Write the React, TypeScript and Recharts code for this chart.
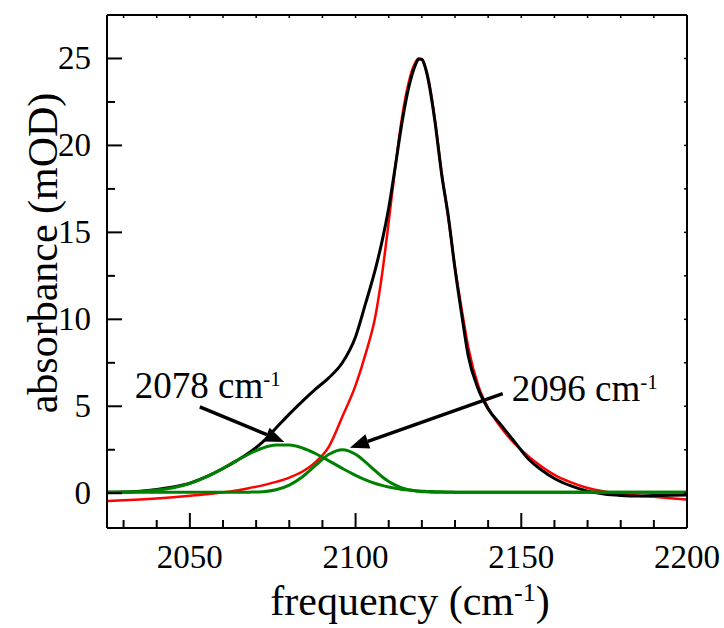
import { LineChart, Line, XAxis, YAxis, ReferenceLine } from "recharts";

// wavenumber grid (cm-1) used by all traces
const freq = [
  2025, 2030, 2035, 2040, 2045, 2050, 2055, 2060, 2064, 2068, 2072, 2076, 2080, 2084, 2088,
  2092, 2096, 2100, 2103, 2106, 2108, 2110, 2112, 2114, 2116, 2117, 2118, 2119, 2120, 2121,
  2122, 2123, 2124, 2126, 2128, 2130, 2132, 2134, 2137, 2140, 2144, 2148, 2152, 2156, 2160,
  2165, 2170, 2175, 2180, 2185, 2190, 2195, 2200,
];

// measured spectrum (black)
const measured = [
  0.05, 0.07, 0.12, 0.22, 0.36, 0.58, 0.95, 1.42, 1.86, 2.35, 2.95, 3.75, 4.55, 5.3, 6.0,
  6.65, 7.5, 9.0, 10.9, 12.9, 14.5, 16.4, 18.8, 21.3, 23.3, 24.05, 24.6, 24.95, 24.95, 24.5,
  23.7, 22.6, 21.3, 18.3, 15.9, 12.9, 10.3, 7.9, 6.0, 4.85, 3.9, 2.95, 2.0, 1.35, 0.85,
  0.42, 0.12, -0.05, -0.13, -0.16, -0.13, -0.12, -0.1,
];

// main band fit (red)
const fitMain = [
  -0.45, -0.41, -0.36, -0.3, -0.23, -0.15, -0.06, 0.05, 0.16, 0.3, 0.45, 0.65, 0.9, 1.25, 1.8,
  2.7, 4.4, 6.2, 8.0, 10.2, 12.6, 15.6, 18.8, 21.6, 23.6, 24.3, 24.75, 25.0, 24.95, 24.55,
  23.8, 22.7, 21.4, 18.4, 15.8, 13.0, 10.6, 8.4, 6.2, 4.9, 3.75, 2.85, 2.15, 1.55, 1.05,
  0.62, 0.3, 0.1, -0.03, -0.13, -0.21, -0.29, -0.36,
];

// 2078 cm-1 component (green)
const band2078 = [
  0.06, 0.07, 0.1, 0.18, 0.32, 0.56, 0.94, 1.43, 1.86, 2.27, 2.6, 2.77, 2.77, 2.6, 2.27,
  1.86, 1.43, 1.03, 0.77, 0.56, 0.45, 0.36, 0.28, 0.22, 0.18, 0.16, 0.14, 0.13, 0.12, 0.11,
  0.1, 0.1, 0.09, 0.08, 0.07, 0.06, 0.06, 0.05, 0.05, 0.05, 0.05, 0.05, 0.05, 0.05, 0.05,
  0.05, 0.05, 0.05, 0.05, 0.05, 0.05, 0.05, 0.05,
];

// 2096 cm-1 component (green)
const band2096 = [
  0.05, 0.05, 0.05, 0.05, 0.05, 0.05, 0.05, 0.05, 0.05, 0.06, 0.09, 0.2, 0.47, 0.95, 1.62,
  2.24, 2.5, 2.24, 1.79, 1.28, 0.95, 0.68, 0.47, 0.31, 0.2, 0.17, 0.14, 0.11, 0.09, 0.08,
  0.07, 0.06, 0.06, 0.05, 0.05, 0.05, 0.05, 0.05, 0.05, 0.05, 0.05, 0.05, 0.05, 0.05, 0.05,
  0.05, 0.05, 0.05, 0.05, 0.05, 0.05, 0.05, 0.05,
];

const xTicks = [
  2030, 2040, 2050, 2060, 2070, 2080, 2090, 2100, 2110, 2120, 2130, 2140, 2150, 2160, 2170,
  2180, 2190, 2200,
];
const xMajor = [2050, 2100, 2150, 2200];
const yTicks = [0, 2.5, 5, 7.5, 10, 12.5, 15, 17.5, 20, 22.5, 25];
const yMajor = [0, 5, 10, 15, 20, 25];

const rows = freq.map((f, i) => ({
  f,
  measured: measured[i],
  fit: fitMain[i],
  b2078: band2078[i],
  b2096: band2096[i],
}));

const FONT = "'Liberation Serif', 'Times New Roman', Times, serif";
const GREEN = "#008000";
const serif = { fontFamily: FONT };

function BottomTick({ x, y, payload }: any) {
  const major = xMajor.includes(payload.value);
  return (
    <g>
      <line x1={x} y1={y} x2={x} y2={y - (major ? 15 : 8)} stroke="#000" strokeWidth={2} />
      {major && (
        <text x={x} y={y + 29} textAnchor="middle" dominantBaseline="central"
          style={serif} fontSize={33} fill="#000">
          {payload.value}
        </text>
      )}
    </g>
  );
}

function LeftTick({ x, y, payload }: any) {
  const major = yMajor.includes(payload.value);
  return (
    <g>
      <line x1={x} y1={y} x2={x + (major ? 15 : 8)} y2={y} stroke="#000" strokeWidth={2} />
      {major && (
        <text x={x - 16} y={y} textAnchor="end" dominantBaseline="central"
          style={serif} fontSize={33} fill="#000">
          {payload.value}
        </text>
      )}
    </g>
  );
}

function TopTick({ x, y }: any) {
  return <line x1={x} y1={y} x2={x} y2={y + 3} stroke="#000" strokeWidth={1.5} />;
}

function RightTick({ x, y }: any) {
  return <line x1={x} y1={y} x2={x - 3} y2={y} stroke="#000" strokeWidth={1.5} />;
}

function YTitle({ viewBox }: any) {
  const cx = 57;
  const cy = viewBox ? viewBox.y + 238 : 253;
  return (
    <text x={cx} y={cy} transform={`rotate(-90 ${cx} ${cy})`} textAnchor="middle"
      style={serif} fontSize={42} fill="#000">
      absorbance (mOD)
    </text>
  );
}

function XTitle({ viewBox }: any) {
  const cx = viewBox ? viewBox.x + viewBox.width / 2 + 13 : 410;
  const cy = viewBox ? viewBox.y + 87 : 615;
  return (
    <text x={cx} y={cy} textAnchor="middle" style={serif} fontSize={42} fill="#000">
      frequency (cm
      <tspan dy={-14} fontSize={26}>-1</tspan>
      <tspan dy={14}>)</tspan>
    </text>
  );
}

function arrowShape(label: string, dx: number, dy: number) {
  return (p: any) => {
    const { x1, y1, x2, y2 } = p;
    const ang = Math.atan2(y2 - y1, x2 - x1);
    const len = 19;
    const half = 7.5;
    const bx = x2 - len * Math.cos(ang);
    const by = y2 - len * Math.sin(ang);
    const pts = [
      `${x2},${y2}`,
      `${bx + half * Math.sin(ang)},${by - half * Math.cos(ang)}`,
      `${bx - half * Math.sin(ang)},${by + half * Math.cos(ang)}`,
    ].join(" ");
    return (
      <g>
        <line x1={x1} y1={y1} x2={bx} y2={by} stroke="#000" strokeWidth={3.5} />
        <polygon points={pts} fill="#000" />
        <text x={x1 + dx} y={y1 + dy} style={serif} fontSize={37} fill="#000">
          {label}
          <tspan dy={-12} fontSize={21}>-1</tspan>
        </text>
      </g>
    );
  };
}

export default function App() {
  return (
    <div style={{ position: "absolute", left: 0, top: 0, background: "#fff" }}>
      <LineChart width={724} height={628} data={rows}
        margin={{ top: 0, right: 0, bottom: 0, left: 0 }}>
        <XAxis xAxisId="bottom" dataKey="f" type="number" domain={[2025, 2200]}
          ticks={xTicks} allowDataOverflow height={100} tickSize={0} tickMargin={0}
          tickLine={false} axisLine={{ stroke: "#000", strokeWidth: 2 }}
          tick={<BottomTick />} interval={0} label={<XTitle />} />
        <XAxis xAxisId="top" orientation="top" dataKey="f" type="number"
          domain={[2025, 2200]} ticks={xTicks} allowDataOverflow height={15}
          tickSize={0} tickMargin={0} tickLine={false}
          axisLine={{ stroke: "#000", strokeWidth: 2 }} tick={<TopTick />} interval={0} />
        <YAxis yAxisId="left" type="number" domain={[-2, 27.5]} ticks={yTicks}
          allowDataOverflow width={107} tickSize={0} tickMargin={0} tickLine={false}
          axisLine={{ stroke: "#000", strokeWidth: 2 }} tick={<LeftTick />} interval={0}
          label={<YTitle />} />
        <YAxis yAxisId="right" orientation="right" type="number" domain={[-2, 27.5]}
          ticks={yTicks} allowDataOverflow width={37} tickSize={0} tickMargin={0}
          tickLine={false} axisLine={{ stroke: "#000", strokeWidth: 2 }}
          tick={<RightTick />} interval={0} />

        <Line xAxisId="bottom" yAxisId="left" type="monotone" dataKey="fit" stroke="#ff0000"
          strokeWidth={2.5} dot={false} activeDot={false} isAnimationActive={false} />
        <Line xAxisId="bottom" yAxisId="left" type="monotone" dataKey="measured" stroke="#000"
          strokeWidth={3} dot={false} activeDot={false} isAnimationActive={false} />
        <Line xAxisId="bottom" yAxisId="left" type="monotone" dataKey="b2078" stroke={GREEN}
          strokeWidth={3} dot={false} activeDot={false} isAnimationActive={false} />
        <Line xAxisId="bottom" yAxisId="left" type="monotone" dataKey="b2096" stroke={GREEN}
          strokeWidth={3} dot={false} activeDot={false} isAnimationActive={false} />

        <ReferenceLine xAxisId="bottom" yAxisId="left" ifOverflow="visible"
          segment={[{ x: 2053, y: 4.96 }, { x: 2078.5, y: 2.95 }]}
          shape={arrowShape("2078 cm", -65, -9)} />
        <ReferenceLine xAxisId="bottom" yAxisId="left" ifOverflow="visible"
          segment={[{ x: 2144.4, y: 5.73 }, { x: 2098.3, y: 2.62 }]}
          shape={arrowShape("2096 cm", 9, 7)} />
      </LineChart>
    </div>
  );
}
